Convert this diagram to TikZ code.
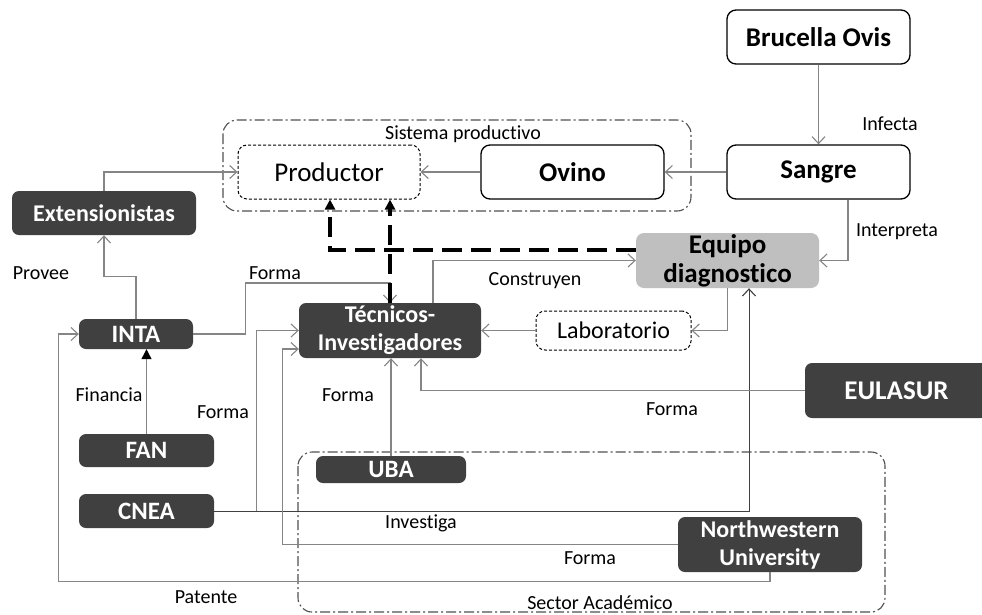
\documentclass[tikz,border=0pt]{standalone}
\usepackage{fontspec}
\setmainfont{Carlito}[Ligatures=NoCommon]
\usetikzlibrary{arrows.meta}
\definecolor{darkfill}{HTML}{404040}
\definecolor{grayfill}{HTML}{BFBFBF}
\definecolor{linegray}{HTML}{858585}
\definecolor{framegray}{HTML}{505050}
\begin{document}
\begin{tikzpicture}[x=1pt,y=-1pt,
  whitebox/.style={draw=black, line width=1.3pt, fill=white, rounded corners=9pt, inner sep=0pt, align=center, font=\fontsize{27}{29}\selectfont\bfseries},
  dashbox/.style={draw=black, densely dashed, line width=1pt, fill=white, rounded corners=9pt, inner sep=0pt, align=center},
  darkbox/.style={fill=darkfill, text=white, rounded corners=7pt, inner sep=0pt, align=center, font=\fontsize{24}{28}\selectfont\bfseries},
  graybox/.style={fill=grayfill, rounded corners=8pt, inner sep=0pt, align=center, font=\fontsize{27}{29}\selectfont\bfseries},
  frame/.style={draw=framegray, line width=1.1pt, rounded corners=14pt, dash pattern=on 10pt off 3pt on 2pt off 3pt},
  lbl/.style={font=\fontsize{20}{22}\selectfont, inner sep=0pt},
  conn/.style={draw=linegray, line width=1.2pt, -{Straight Barb[length=7pt,width=13pt,line width=1.1pt]}},
  darkconn/.style={draw=black!75, line width=1pt, -{Straight Barb[length=7pt,width=13pt,line width=1.1pt]}},
  thickd/.style={draw=black, line width=3.5pt, dash pattern=on 20pt off 9pt, -{Triangle[length=10pt,width=10pt]}},
]
\useasboundingbox (0,0) rectangle (982,614);
\fill[white] (0,0) rectangle (982,614);

% containers
\draw[frame] (223,120) rectangle (691,211);
\node[lbl] (sistlbl) at (463,134) {Sistema productivo};
\draw[frame] (298,452) rectangle (885,612);

% nodes
\node[whitebox, minimum width=183pt, minimum height=54pt] (brucella) at (818.5,37) {Brucella Ovis};
\node[whitebox, minimum width=183pt, minimum height=54pt] (sangre) at (818.5,172) {Sangre};
\node[whitebox, minimum width=183pt, minimum height=54pt] (ovino) at (572.5,172) {Ovino};
\node[dashbox, minimum width=182pt, minimum height=54pt, font=\fontsize{27}{29}\selectfont] (productor) at (329,172) {Productor};
\node[darkbox, minimum width=184pt, minimum height=44pt] (extens) at (104,213) {Extensionistas};
\node[graybox, minimum width=183pt, minimum height=55pt] (equipo) at (727.5,260.5) {Equipo\\diagnostico};
\node[darkbox, minimum width=182pt, minimum height=55pt] (tecnicos) at (390,330.5) {Técnicos-\\Investigadores};
\node[dashbox, minimum width=155pt, minimum height=39pt, font=\fontsize{24}{26}\selectfont] (lab) at (613.5,330.5) {Laboratorio};
\node[darkbox, minimum width=114pt, minimum height=30pt, font=\fontsize{25}{28}\selectfont\bfseries] (inta) at (136,334) {INTA};
\node[darkbox, minimum width=135pt, minimum height=33pt, font=\fontsize{25}{28}\selectfont\bfseries] (fan) at (146.5,450.5) {FAN};
\node[darkbox, minimum width=135pt, minimum height=34pt, font=\fontsize{25}{28}\selectfont\bfseries] (cnea) at (146.5,511) {CNEA};
\node[darkbox, minimum width=150pt, minimum height=27pt, font=\fontsize{25}{28}\selectfont\bfseries] (uba) at (391,469.5) {UBA};
\node[darkbox, minimum width=183pt, minimum height=55pt, font=\fontsize{27}{29}\selectfont\bfseries] (eulasur) at (896.5,390.5) {EULASUR};
\node[darkbox, minimum width=184pt, minimum height=55pt] (nw) at (770,544.5) {Northwestern\\University};

% connectors
\draw[conn] (brucella) -- (sangre);
\draw[conn] (sangre) -- (ovino);
\draw[conn] (ovino) -- (productor);
\draw[conn] (extens.north) |- (productor.west);
\draw[conn] (inta.north) -- ++(0,-42) -| (extens.south);
\draw[conn] (inta.east) -| ++(52,-51) -| (tecnicos.north);
\draw[thickd] ([yshift=10.5pt]equipo.west) -| ([xshift=1pt]productor.south);
\draw[thickd] (tecnicos.north) -- (tecnicos.north |- productor.south);
\draw[conn] ([xshift=43pt]tecnicos.north) |- (equipo.west);
\draw[conn] ([xshift=29.5pt]sangre.south) |- (equipo.east);
\draw[conn] (equipo.south) |- (lab.east);
\draw[conn] (lab.west) -- (tecnicos.east);
\draw[darkconn] (cnea.east) -| ([xshift=21.5pt]equipo.south);
\draw[conn] ([xshift=42pt]cnea.east) |- (tecnicos.west);
\draw[conn] (nw.west) -| ([xshift=-16pt,yshift=-18.5pt]tecnicos.west) -- ([yshift=-18.5pt]tecnicos.west);
\draw[conn] (nw.south) -- ++(0,9) -| ([xshift=-20pt]inta.west) -- (inta.west);
\draw[conn] (eulasur.west) -| ([xshift=31pt]tecnicos.south);
\draw[conn] (uba.north) -- (uba.north |- tecnicos.south);
\draw[draw=linegray, line width=1.2pt, -{Triangle[length=10pt,width=10pt,color=black]}] (fan.north) -- (fan.north |- inta.south);

% labels
\node[lbl] (l1) at (890,124) {Infecta};
\node[lbl] (l2) at (897,232) {Interpreta};
\node[lbl] (l3) at (535,281) {Construyen};
\node[lbl] (l4) at (41,273) {Provee};
\node[lbl] (l5) at (275,273) {Forma};
\node[lbl] (l6) at (109,395) {Financia};
\node[lbl] (l7) at (223,412) {Forma};
\node[lbl] (l8) at (348,395) {Forma};
\node[lbl] (l9) at (672,409) {Forma};
\node[lbl] (l10) at (421,523) {Investiga};
\node[lbl] (l11) at (590,558) {Forma};
\node[lbl] (l12) at (206,597) {Patente};
\node[lbl] (l13) at (600,603) {Sector Académico};
\end{tikzpicture}
\end{document}
